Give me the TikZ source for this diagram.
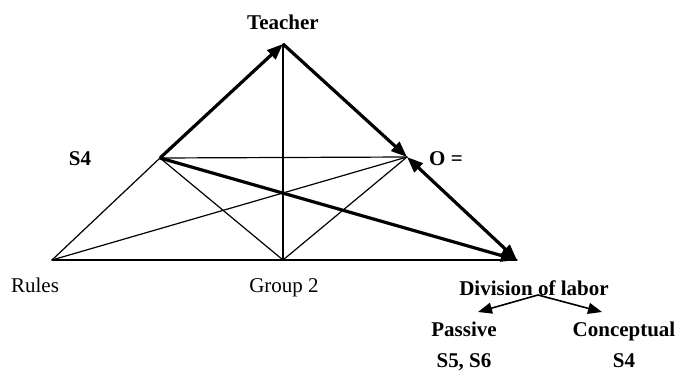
\documentclass[tikz,border=0pt]{standalone}
\usepackage{fontspec}
\setmainfont{Liberation Serif}
\usetikzlibrary{arrows.meta, positioning}
\tikzset{
  boldlabel/.style={
    font=\fontsize{21}{25}\selectfont\bfseries,
    inner sep=0pt,
    anchor=base
  },
  plainlabel/.style={
    font=\fontsize{21}{25}\selectfont,
    inner sep=0pt,
    anchor=base
  },
  thinline/.style={
    line width=1.2pt,
    line cap=round
  },
  flowarrow/.style={
    -{Triangle[length=16pt, width=12pt]},
    line width=3.2pt
  },
  botharrow/.style={
    {Triangle[length=16pt, width=12pt]}-{Triangle[length=16pt, width=12pt]},
    line width=3.2pt
  },
  splitarrow/.style={
    -{Triangle[length=14pt, width=11pt]},
    line width=1.6pt
  }
}
\begin{document}
\begin{tikzpicture}[x=1pt, y=-1pt]
  \useasboundingbox (0,0) rectangle (678,372);

  % Triangle corners
  \coordinate (teach) at (283,44);
  \coordinate (subj) at (160,158);
  \coordinate (obj) at (407,157);
  \coordinate (rules) at (52,260);
  \coordinate (comm) at (283,260);
  \coordinate (div) at (517,260);

  % Thin lines
  \draw [thinline] (rules) -- (comm) -- (div);
  \draw [thinline] (rules) -- (subj);
  \draw [thinline] (rules) -- (obj);
  \draw [thinline] (comm) -- (subj);
  \draw [thinline] (comm) -- (obj);
  \draw [thinline] (comm) -- (teach);
  \draw [thinline] (subj) -- (obj);

  % Thick arrows
  \draw [flowarrow] (subj) -- (teach);
  \draw [flowarrow] (teach) -- (obj);
  \draw [flowarrow] (subj) -- (div);
  \draw [botharrow] (obj) -- (div);

  % Labels
  \node (tlbl) [boldlabel] at (283,29) {Teacher};
  \node (slbl) [boldlabel] at (80,165) {S4};
  \node (olbl) [boldlabel] at (446,165) {O =};
  \node (rlbl) [plainlabel] at (35,292) {Rules};
  \node (glbl) [plainlabel] at (284,292) {Group 2};
  \node (dlbl) [boldlabel] at (534,295) {Division of labor};

  \node (pasv) [boldlabel] at (464,336) {Passive};
  \node (conc) [boldlabel] at (624,336) {Conceptual};
  \node (pasvs) [boldlabel, below=31pt of pasv.base, anchor=base] {S5, S6};
  \node (concs) [boldlabel, below=31pt of conc.base, anchor=base] {S4};

  % Split arrows
  \coordinate (split) at (538,295);
  \coordinate (ptip) at (478,312);
  \coordinate (ctip) at (602,312);
  \draw [splitarrow] (split) -- (ptip);
  \draw [splitarrow] (split) -- (ctip);

\end{tikzpicture}
\end{document}
